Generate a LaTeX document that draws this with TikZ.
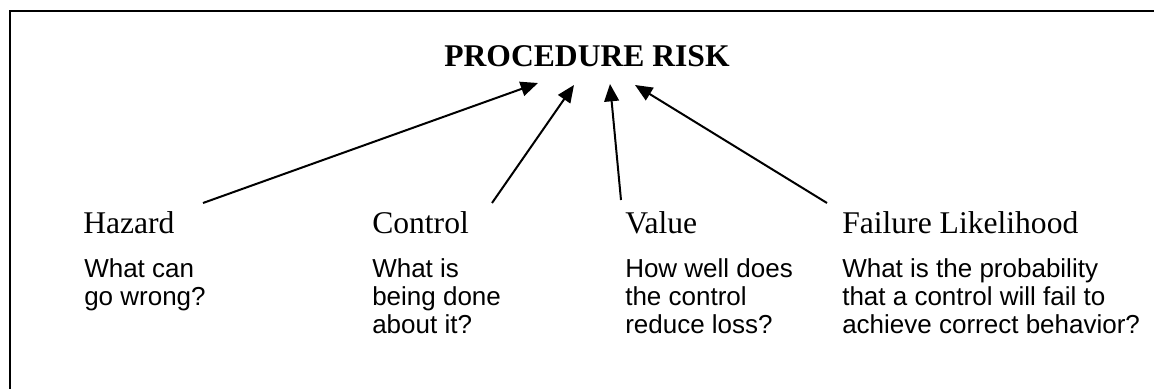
\documentclass[tikz,border=0pt]{standalone}
\usepackage{fontspec}
\setmainfont{Liberation Serif}
\newfontfamily\arialfont{Liberation Sans}
\usetikzlibrary{arrows.meta}
\tikzset{
  titlestyle/.style={inner sep=0pt, anchor=base, font=\bfseries\fontsize{23.7}{28}\selectfont},
  labelstyle/.style={inner sep=0pt, anchor=base west, font=\fontsize{23.7}{28}\selectfont},
  descstyle/.style={inner sep=0pt, anchor=base west, align=left, font=\arialfont\fontsize{19.5}{21}\selectfont},
  arr/.style={line width=1.5pt, -{Triangle[length=13pt,width=11pt]}},
  frame/.style={line width=1.5pt}
}
\begin{document}
\begin{tikzpicture}[x=0.75pt,y=-0.75pt]
\useasboundingbox (0,0) rectangle (1154,389);
\draw[frame] (10,389) -- (10,11) -- (1154,11);

\node[titlestyle] (title) at (587,66) {PROCEDURE RISK};

\node[labelstyle] (haz) at (83,233) {Hazard};
\node[labelstyle] (con) at (372,233) {Control};
\node[labelstyle] (val) at (625,233) {Value};
\node[labelstyle] (fail) at (842,233) {Failure Likelihood};

% base anchor of a multi-line node is the baseline of its last line
\node[descstyle] (hazd) at (84,305) {What can\\go wrong?};
\node[descstyle] (cond) at (372,333) {What is\\being done\\about it?};
\node[descstyle] (vald) at (625,333) {How well does\\the control\\reduce loss?};
\node[descstyle] (faild) at (842,333) {What is the probability\\that a control will fail to\\achieve correct behavior?};

\coordinate (hs) at (203,203);
\coordinate (ht) at (538,83);
\coordinate (cs) at (492,203);
\coordinate (ct) at (574,85);
\coordinate (vs) at (621,200);
\coordinate (vt) at (610,84);
\coordinate (fs) at (827,203);
\coordinate (ft) at (635,85);

\draw[arr] (hs) -- (ht);
\draw[arr] (cs) -- (ct);
\draw[arr] (vs) -- (vt);
\draw[arr] (fs) -- (ft);
\end{tikzpicture}
\end{document}
